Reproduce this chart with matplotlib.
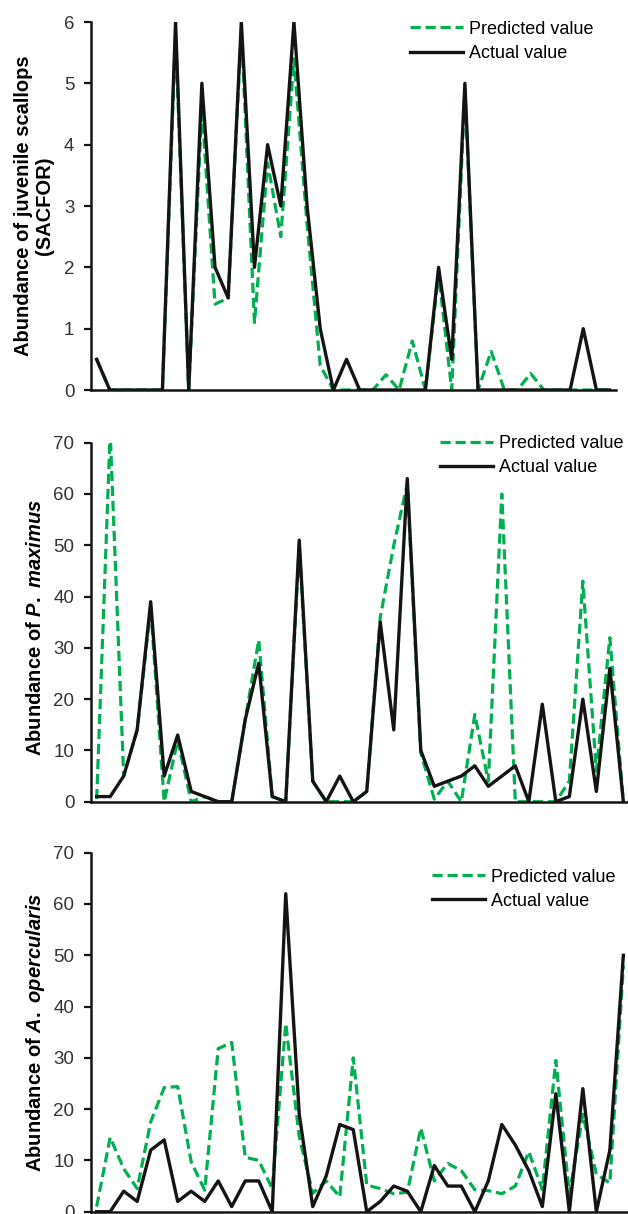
import matplotlib
matplotlib.use("Agg")
import matplotlib.pyplot as plt

# site index along the x axis (no tick labels in the original)
sites = list(range(1, 41))

# juvenile scallops, SACFOR scale
juv_actual = [0.5, 0, 0, 0, 0, 0, 6, 0, 5, 2,
              1.5, 6, 2, 4, 3, 6, 3, 1, 0, 0.5,
              0, 0, 0, 0, 0, 0, 2, 0.5, 5, 0,
              0, 0, 0, 0, 0, 0, 0, 1, 0, 0]
juv_pred = [0.5, 0, 0, 0, 0, 0, 5.8, 0, 4.6, 1.4,
            1.5, 5.9, 1.1, 3.7, 2.5, 5.4, 2.7, 0.4, 0, 0,
            0, 0, 0.25, 0, 0.8, 0, 1.9, 0, 4.9, 0,
            0.63, 0, 0, 0.27, 0, 0, 0, 0, 0, 0]

# P. maximus
pmax_actual = [1, 1, 5, 14, 39, 5, 13, 2, 1, 0,
               0, 16, 27, 1, 0, 51, 4, 0, 5, 0,
               2, 35, 14, 63, 10, 3, 4, 5, 7, 3,
               5, 7, 0, 19, 0, 1, 20, 2, 26, 0]
pmax_pred = [0.5, 72, 5, 14, 38, 0, 12, 0, 1, 0,
             0, 16, 31.5, 1, 0, 50, 4, 0, 0, 0,
             2, 36, 50, 62, 9.5, 0.5, 4, 0, 17, 4,
             60, 0, 0, 0, 0, 4, 43, 6, 32, 0]

# A. opercularis
aop_actual = [0, 0, 4, 2, 12, 14, 2, 4, 2, 6,
              1, 6, 6, 0, 62, 19, 1, 7, 17, 16,
              0, 2, 5, 4, 0, 9, 5, 5, 0, 6,
              17, 13, 8, 1, 23, 0, 24, 0, 12, 50]
aop_pred = [1, 14.5, 8.4, 4.5, 17.5, 24.2, 24.4, 9.7, 4.2, 31.8,
            33, 10.6, 10, 4.5, 36.7, 14.6, 3.6, 6, 2.9, 30,
            5.2, 4.5, 3.5, 3.8, 16.3, 6, 9.4, 8, 4.3, 4.1,
            3.5, 5, 11.7, 4.3, 29.5, 3.4, 19, 7.3, 5.6, 48]

ylabels = [
    "Abundance of juvenile scallops\n(SACFOR)",
    r"Abundance of $\mathit{P.\ maximus}$",
    r"Abundance of $\mathit{A.\ opercularis}$",
]
ymax = [6, 70, 70]
ystep = [1, 10, 10]

GREEN = "#00B050"
BLACK = "#141414"
TICK_GREY = "#333333"

plt.rcParams["font.family"] = ["Liberation Sans", "DejaVu Sans"]
plt.rcParams["mathtext.fontset"] = "custom"
plt.rcParams["mathtext.it"] = "Liberation Sans:bold:italic"
plt.rcParams["mathtext.rm"] = "Liberation Sans:bold"

W, H = 628, 1214
fig = plt.figure(figsize=(W / 100, H / 100), dpi=100)


def px_box(left, right, top, bottom):
    return [left / W, 1 - bottom / H, (right - left) / W, (bottom - top) / H]


# axes boxes in pixels: (left, right, top, bottom)
boxes = [(91, 616, 22, 390), (91, 627, 442.7, 801.7), (91, 627, 852.7, 1211.7)]
xlims = [(0.57, 40.49), (0.58, 40.27), (0.58, 40.27)]
legend_anchor = [(410, 41.3), (440, 455.5), (432, 889.2)]
label_pos = [(34, 206), (35.5, 627.5), (35.5, 1032.5)]

series = [(juv_pred, juv_actual), (pmax_pred, pmax_actual), (aop_pred, aop_actual)]

for i, (pred, actual) in enumerate(series):
    ax = fig.add_axes(px_box(*boxes[i]))
    ax.plot(sites, pred, color=GREEN, lw=2.3, dashes=(3.2, 1.5),
            label="Predicted value")
    ax.plot(sites, actual, color=BLACK, lw=2.4, label="Actual value")

    ax.set_xlim(*xlims[i])
    ax.set_ylim(0, ymax[i])
    ax.set_yticks(range(0, ymax[i] + 1, ystep[i]))
    ax.set_xticks([])
    ax.tick_params(axis="y", direction="out", length=5, width=1.6,
                   pad=7, labelsize=13.5, labelcolor=TICK_GREY, color=BLACK)
    for side in ("top", "right"):
        ax.spines[side].set_visible(False)
    for side in ("left", "bottom"):
        ax.spines[side].set_linewidth(1.8)
        ax.spines[side].set_color(BLACK)

    lx, ly = legend_anchor[i]
    ax.legend(loc="center left", bbox_to_anchor=(lx / W, 1 - ly / H),
              bbox_transform=fig.transFigure, frameon=False, fontsize=13,
              handlelength=2.95, handletextpad=0.33, labelspacing=0.4,
              borderpad=0, borderaxespad=0)

    tx, ty = label_pos[i]
    fig.text(tx / W, 1 - ty / H, ylabels[i], rotation=90, ha="center",
             va="center", multialignment="center", fontsize=14.5,
             fontweight="bold", linespacing=1.1)

fig.savefig("out.png", dpi=100)
